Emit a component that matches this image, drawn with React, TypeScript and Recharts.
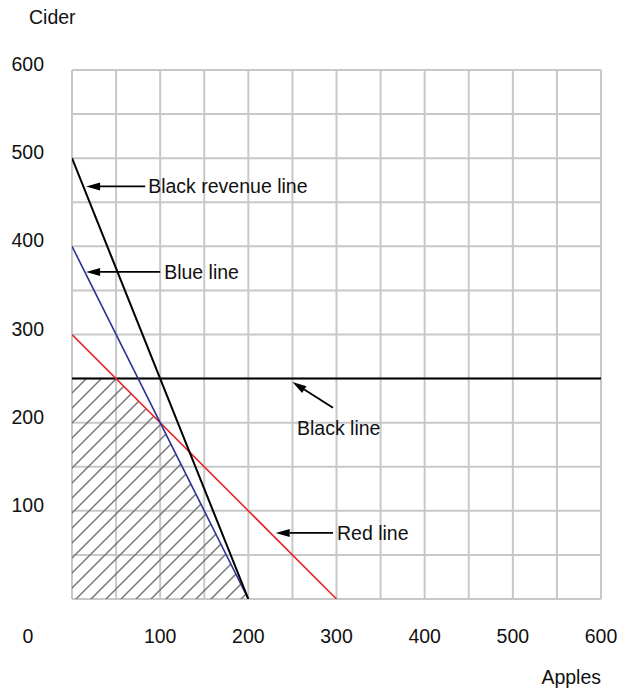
import React from 'react';
import {
  ComposedChart,
  Line,
  Area,
  XAxis,
  YAxis,
  CartesianGrid,
  ReferenceLine,
} from 'recharts';

// ---- data ----
const apples = [0, 50, 100, 200, 300, 600];
const blackRevenue: (number | null)[] = [500, null, null, 0, null, null];
const blueLine: (number | null)[] = [400, null, null, 0, null, null];
const redLine: (number | null)[] = [300, null, null, null, 0, null];
const blackLine: (number | null)[] = [250, null, null, null, null, 250];
const feasible: (number | null)[] = [250, 250, 200, 0, null, null];

const gridTicks = [0, 50, 100, 150, 200, 250, 300, 350, 400, 450, 500, 550, 600];
const labelTicks = [100, 200, 300, 400, 500, 600];

const annotationLabels = ['Black revenue line', 'Blue line', 'Black line', 'Red line'];
const annotationTips: [number, number][] = [[16, 468], [16, 371], [250, 246], [231, 75]];
const annotationTails: [number, number][] = [[83, 468], [100, 371], [296, 217], [296, 75]];

const data = apples.map((a, i) => ({
  apples: a,
  blackRevenue: blackRevenue[i],
  blue: blueLine[i],
  red: redLine[i],
  black: blackLine[i],
  feasible: feasible[i],
}));

const FONT = '"Liberation Sans", Arial, Helvetica, sans-serif';
const FS = 19.5;

const XTick = (props: any) => {
  const { x, y, payload } = props;
  if (!labelTicks.includes(payload.value)) return <g />;
  return (
    <text x={x} y={y + 44} textAnchor="middle" fontFamily={FONT} fontSize={FS} fill="#111">
      {payload.value}
    </text>
  );
};

const YTick = (props: any) => {
  const { x, y, payload } = props;
  if (payload.value === 0) {
    return (
      <text x={x - 44} y={y + 44} textAnchor="middle" fontFamily={FONT} fontSize={FS} fill="#111">
        0
      </text>
    );
  }
  if (!labelTicks.includes(payload.value)) return <g />;
  return (
    <text x={x - 28} y={y + 1} textAnchor="end" fontFamily={FONT} fontSize={FS} fill="#111">
      {payload.value}
    </text>
  );
};

const labelOffsets: [number, number, string][] = [
  [3, 7, 'start'],
  [4, 7, 'start'],
  [-36, 27, 'start'],
  [4, 7, 'start'],
];

const makeArrow = (idx: number) => (props: any) => {
  const { x1, y1, x2, y2 } = props;
  const dx = x2 - x1;
  const dy = y2 - y1;
  const len = Math.sqrt(dx * dx + dy * dy) || 1;
  const ux = dx / len;
  const uy = dy / len;
  const headLen = 14;
  const hw = 4;
  const bx = x1 + ux * headLen;
  const by = y1 + uy * headLen;
  const p1 = `${x1},${y1}`;
  const p2 = `${bx - uy * hw},${by + ux * hw}`;
  const p3 = `${bx + uy * hw},${by - ux * hw}`;
  const [ox, oy, anchor] = labelOffsets[idx];
  return (
    <g>
      <line x1={bx} y1={by} x2={x2} y2={y2} stroke="#000" strokeWidth={1.8} />
      <polygon points={`${p1} ${p2} ${p3}`} fill="#000" />
      <text x={x2 + ox} y={y2 + oy} textAnchor={anchor as any} fontFamily={FONT} fontSize={FS} fill="#111">
        {annotationLabels[idx]}
      </text>
    </g>
  );
};

const CiderLabel = (props: any) => {
  const { viewBox } = props;
  return (
    <text x={viewBox.x + 29} y={viewBox.y - 46} fontFamily={FONT} fontSize={FS} fill="#111">
      Cider
    </text>
  );
};

const ApplesLabel = (props: any) => {
  const { viewBox } = props;
  return (
    <text x={viewBox.x + viewBox.width} y={viewBox.y + 85} textAnchor="end" fontFamily={FONT} fontSize={FS} fill="#111">
      Apples
    </text>
  );
};

export default function App() {
  return (
    <div style={{ position: 'absolute', left: 0, top: 0, width: 621, height: 692, background: '#fff' }}>
      <ComposedChart
        width={621}
        height={692}
        data={data}
        margin={{ top: 70, right: 20, bottom: 0, left: 0 }}
      >
        <defs>
          <pattern id="hatch" patternUnits="userSpaceOnUse" width={15} height={15}>
            <path
              d="M0,15 L15,0 M-3.75,3.75 L3.75,-3.75 M11.25,18.75 L18.75,11.25"
              stroke="#777"
              strokeWidth={1.5}
            />
          </pattern>
        </defs>
        <CartesianGrid stroke="#c8c8c8" strokeWidth={2} />
        <XAxis
          dataKey="apples"
          type="number"
          domain={[0, 600]}
          ticks={gridTicks}
          allowDataOverflow
          height={93}
          axisLine={false}
          tickLine={false}
          tickSize={0}
          tickMargin={0}
          tick={<XTick />}
          interval={0}
          label={<ApplesLabel />}
        />
        <YAxis
          type="number"
          domain={[0, 600]}
          ticks={gridTicks}
          allowDataOverflow
          width={72}
          axisLine={false}
          tickLine={false}
          tickSize={0}
          tickMargin={0}
          tick={<YTick />}
          interval={0}
          label={<CiderLabel />}
        />
        <Area
          dataKey="feasible"
          type="linear"
          stroke="none"
          fill="url(#hatch)"
          fillOpacity={1}
          connectNulls
          isAnimationActive={false}
          dot={false}
          activeDot={false}
        />
        <Line dataKey="black" type="linear" stroke="#000" strokeWidth={2} dot={false} activeDot={false} connectNulls isAnimationActive={false} />
        <Line dataKey="red" type="linear" stroke="#e8262c" strokeWidth={1.6} dot={false} activeDot={false} connectNulls isAnimationActive={false} />
        <Line dataKey="blue" type="linear" stroke="#2e3192" strokeWidth={1.6} dot={false} activeDot={false} connectNulls isAnimationActive={false} />
        <Line dataKey="blackRevenue" type="linear" stroke="#000" strokeWidth={2} dot={false} activeDot={false} connectNulls isAnimationActive={false} />
        {annotationLabels.map((_, i) => (
          <ReferenceLine
            key={i}
            segment={[
              { x: annotationTips[i][0], y: annotationTips[i][1] },
              { x: annotationTails[i][0], y: annotationTails[i][1] },
            ]}
            ifOverflow="visible"
            shape={makeArrow(i)}
          />
        ))}
      </ComposedChart>
    </div>
  );
}
